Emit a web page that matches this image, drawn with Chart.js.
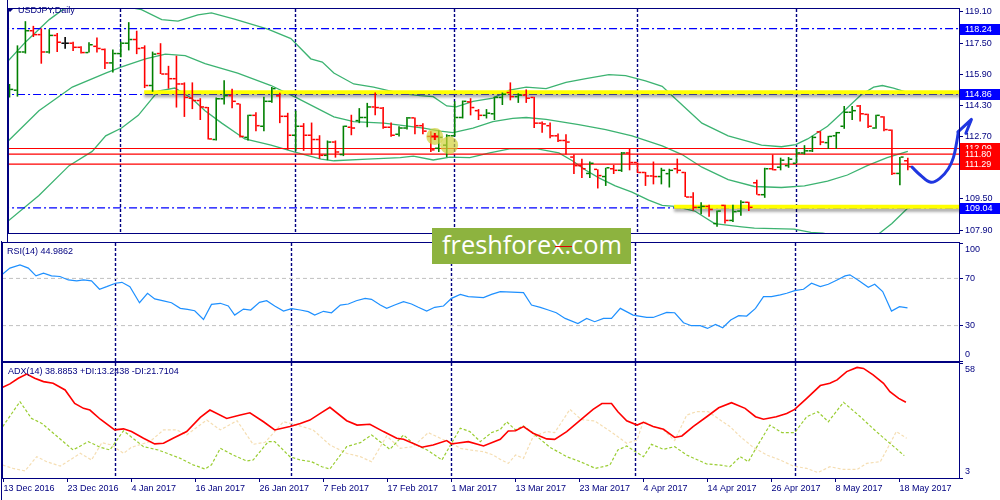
<!DOCTYPE html>
<html>
<head>
<meta charset="utf-8" />
<script src="https://cdn.jsdelivr.net/npm/chart.js@4.4.1/dist/chart.umd.min.js"></script>
<style>
  body { margin:0; background:#fff; overflow:hidden; }
  #wrap { position:relative; width:1000px; height:500px; background:#fff; font-family:"Liberation Sans", Arial, sans-serif; }
  #wrap canvas { position:absolute; left:0; }
  .lbl { position:absolute; font-size:9px; line-height:11px; color:#000080; white-space:nowrap; }
  #tri { position:absolute; left:7px; top:9px; width:0; height:0; border-left:3px solid transparent; border-right:3px solid transparent; border-top:3px solid #000080; }
  #wm { position:absolute; left:432px; top:228px; width:199px; height:36px; background:#8db33f; overflow:hidden; z-index:5; }
  #wmText { position:absolute; left:10px; top:0; line-height:32px; font-family:"Open Sans", sans-serif; font-size:26px; color:#fff; white-space:nowrap; }
  #wmRed { position:absolute; left:123px; top:18px; width:17px; height:1px; background:#e00000; }
</style>
</head>
<body>
<div id="wrap">
  <canvas id="cMain" width="1000" height="242" style="top:0"></canvas>
  <canvas id="cRsi" width="1000" height="121" style="top:241px"></canvas>
  <canvas id="cAdx" width="1000" height="139" style="top:361px"></canvas>
  <div id="tri"></div>
  <div class="lbl" style="left:18px;top:5px">USDJPY,Daily</div>
  <div class="lbl" style="left:7px;top:246px">RSI(14) 44.9862</div>
  <div class="lbl" style="left:8px;top:366px">ADX(14) 38.8853 +DI:13.2438 -DI:21.7104</div>
  <div id="wm"><span id="wmText">freshforex.com</span><div id="wmRed"></div></div>
</div>

<script>
// ---- data (bar index 0 = 13 Dec 2016) ----
const xTickBars = [0, 8, 16, 24, 32, 40, 48, 56, 64, 72, 80, 88, 96, 104, 112];
const xTickLabels = ['13 Dec 2016','23 Dec 2016','4 Jan 2017','16 Jan 2017','26 Jan 2017','7 Feb 2017','17 Feb 2017',
  '1 Mar 2017','13 Mar 2017','23 Mar 2017','4 Apr 2017','14 Apr 2017','26 Apr 2017','8 May 2017','18 May 2017'];
const monthStartBars = [14, 36, 56, 79, 99];

const barOpen = [115.08,115.08,117.04,118.13,117.93,117.04,117.89,117.49,117.49,117.28,
 117.01,117.33,117.17,116.48,116.96,117.49,117.68,117.25,115.32,116.96,
 115.91,115.67,115.40,114.67,114.55,114.19,112.55,114.64,114.80,114.38,
 112.66,113.79,113.23,114.51,114.79,113.74,112.77,113.23,112.77,112.55,
 111.74,112.42,111.78,113.18,113.52,113.68,114.22,114.16,113.18,112.82,
 113.14,113.66,113.26,112.71,112.10,112.26,112.74,113.68,114.48,114.03,
 113.79,113.87,114.71,114.96,114.75,114.83,114.71,113.39,113.26,112.74,
 112.50,111.65,111.21,110.81,111.02,110.65,111.05,110.97,111.86,111.37,
 110.86,110.68,110.65,110.80,111.05,110.86,109.60,109.07,109.12,108.24,
 109.17,108.40,108.88,109.33,110.33,109.72,111.05,111.13,111.21,111.33,
 111.86,111.97,112.94,112.39,112.74,113.23,113.95,114.27,113.84,113.14,
 113.71,113.03,110.81,111.46];
const barHigh = [115.40,117.38,118.62,118.38,118.25,118.21,118.02,117.81,117.57,117.33,
 117.54,117.78,117.22,117.17,117.57,118.57,118.13,117.38,117.06,117.49,
 116.33,116.85,115.48,115.48,114.67,114.22,114.71,115.59,115.16,114.38,
 113.82,113.95,114.75,115.24,114.95,113.92,114.03,113.39,113.42,112.77,
 112.50,112.50,113.26,113.82,114.16,114.43,114.96,114.22,113.42,113.23,
 113.71,113.68,113.39,112.98,113.02,112.82,114.51,114.55,114.67,114.11,
 114.11,114.75,114.96,115.48,114.92,115.12,114.75,113.47,113.42,112.86,
 112.82,111.78,111.57,111.42,111.02,111.10,111.25,111.91,112.10,111.37,
 110.89,111.42,111.10,111.05,111.57,110.89,109.85,109.33,109.20,108.91,
 109.20,109.20,109.44,109.36,110.49,111.10,111.78,111.62,111.65,112.10,
 112.26,112.74,112.98,112.74,112.94,114.27,114.27,114.32,113.87,113.82,
 113.74,113.06,111.65,111.62];
const barLow = [114.71,114.75,116.96,117.81,116.44,116.96,117.04,117.20,117.09,116.96,
 117.01,117.01,116.17,115.99,116.77,117.12,116.93,115.19,115.00,115.91,
 115.16,114.19,113.71,114.11,113.55,112.55,112.50,114.35,114.16,112.66,
 112.50,112.98,112.98,114.43,113.39,112.02,111.97,111.97,111.78,111.57,
 111.49,111.62,111.70,112.77,113.39,113.18,113.79,113.10,112.69,112.71,
 113.06,112.82,112.82,111.91,111.91,111.65,112.71,113.63,113.79,113.55,
 113.63,113.55,114.32,114.56,114.43,114.43,113.14,112.90,112.61,112.42,
 111.78,110.78,110.57,110.57,110.04,110.17,110.78,110.89,110.97,110.83,
 110.17,110.25,110.25,110.09,110.81,109.60,108.91,108.72,108.59,108.07,
 108.24,108.32,108.64,108.88,109.72,109.56,110.97,110.97,111.10,111.33,
 111.78,111.91,112.26,112.07,112.07,113.10,113.55,113.47,113.14,113.10,
 112.98,110.73,110.20,110.97];
const barClose = [115.12,117.04,118.13,117.93,117.04,117.89,117.54,117.49,117.28,117.01,
 117.41,117.22,116.48,116.96,117.49,117.68,117.22,115.32,116.93,115.91,
 115.67,115.40,114.71,114.55,114.22,112.58,114.64,114.80,114.51,112.71,
 113.79,113.26,114.51,115.16,113.74,112.77,113.23,112.77,112.55,111.74,
 112.42,111.91,113.23,113.14,113.68,114.22,114.19,113.18,112.77,113.14,
 113.66,113.26,112.98,112.02,112.66,112.74,113.68,114.51,114.19,113.79,
 113.90,114.71,114.87,114.75,114.83,114.67,113.39,113.35,112.74,112.50,
 112.42,111.21,111.05,111.33,110.70,111.10,110.97,111.86,111.37,110.86,
 110.68,110.65,110.97,110.97,110.97,109.60,109.07,109.12,108.96,108.88,
 108.40,108.85,109.33,109.07,109.72,111.05,111.00,111.49,111.54,111.86,
 111.97,112.66,112.42,112.71,112.90,113.95,114.03,113.87,113.23,113.79,
 113.06,110.81,111.65,111.16];

// Bollinger bands (bar position, price)
const bbUpX = [-0.1,2.06,5.0,7.5,10.0,13.0,16.6,19.15,21.2,23.7,25.4,28.3,32.5,35.4,37.9,39.35,40.8,43.3,45.8,49.15,51.65,53.3,55.0,56.2,58.3,60.8,62.9,65.0,67.5,70.0,72.5,75.4,77.5,80.0,82.1,83.7,85.4,87.1,90.4,94.6,97.1,98.9,100.4,102.9,105.0,107.1,108.7,109.8,111.2,113.0];
const bbUpY = [116.61,117.57,118.70,119.45,119.60,119.50,119.21,118.70,118.62,118.94,119.05,118.73,118.21,117.73,116.69,116.52,115.96,115.40,115.24,114.92,114.80,114.75,114.27,114.22,114.51,114.67,115.08,115.24,115.16,115.48,115.67,115.88,115.83,115.56,115.28,114.67,114.03,113.39,112.74,112.26,112.18,112.29,112.58,113.23,114.03,114.83,115.24,115.32,115.19,114.96];
const bbMidX = [-0.1,3.7,7.9,12.1,14.1,17.1,19.6,22.1,24.6,28.7,32.9,36.2,40.8,43.3,47.1,49.6,52.1,54.2,55.8,58.3,60.8,63.3,65.0,67.5,71.6,75.0,78.3,82.1,84.6,87.1,90.4,93.7,97.1,100.0,102.9,105.4,107.9,110.4,113.0];
const bbMidY = [112.50,114.03,115.24,115.96,116.28,116.69,116.93,116.85,116.44,115.96,115.32,114.67,113.71,113.47,113.39,113.26,113.14,112.98,112.90,113.14,113.47,113.63,113.68,113.58,113.31,113.06,112.74,112.22,111.78,111.13,110.49,110.14,110.09,110.17,110.41,110.73,111.21,111.62,111.94];
const bbLowX = [-0.1,3.7,7.5,10.4,12.1,14.1,16.2,18.7,20.8,22.9,24.6,26.7,29.6,32.9,35.8,39.2,40.8,45.0,49.15,50.8,53.3,55.4,57.9,60.4,62.9,66.4,69.1,70.8,72.5,74.2,76.2,78.3,80.4,82.1,83.7,86.2,88.7,92.1,93.7,98.7,100.8,102.3,104.5,107.0,109.0,109.6,111.0,113.0];
const bbLowY = [108.39,109.68,111.21,111.94,112.74,113.14,113.79,115.03,115.19,114.67,114.03,113.39,112.58,112.26,111.91,111.54,111.46,111.54,111.62,111.70,111.50,111.65,111.62,111.86,112.07,112.07,111.86,111.46,110.97,110.57,110.17,109.85,109.44,109.17,109.12,108.88,108.24,108.07,108.00,107.95,107.79,107.75,107.55,107.50,107.62,107.79,108.24,109.04];

// drawn levels
const blueLevels = [118.24, 114.86, 109.04];
const redLevels = [112.09, 111.80, 111.29];
const yellowLevels = [114.98, 109.10];
const yellowFrom = [16.94, 83.6];
const priceTicks = [119.10, 117.50, 115.90, 114.30, 112.70, 111.10, 109.50, 107.90];
const circleX = [53.5, 55.3];
const circleY = [112.71, 112.26];
const circleR = [8.5, 9];
const crossX = [53.5];
const crossY = [112.71];
const arrowX = [113.53, 114.56, 115.9, 117.06, 118.1, 118.73, 119.15, 119.35];
const arrowY = [111.13, 110.73, 110.36, 110.57, 111.05, 111.62, 112.42, 112.94];
const headX = [119.31, 121.0, 120.3];
const headY = [112.94, 113.58, 112.87];

// RSI(14)
const rsiX = [-0.1,0.8,2.06,3.1,4.06,5.0,6.0,7.06,8.1,9.15,10.0,11.0,12.0,12.9,14.0,14.8,15.8,17.0,18.0,18.9,20.0,21.0,22.1,23.0,23.9,25.0,26.0,27.1,28.1,28.9,30.0,30.9,32.0,32.9,33.9,35.0,36.0,37.1,38.1,38.9,40.0,41.0,42.1,43.1,44.1,45.2,46.0,47.1,47.9,48.9,50.0,51.0,51.85,52.9,53.9,55.0,56.0,57.1,58.1,60.0,61.0,62.1,65.0,66.0,67.1,68.1,69.1,70.2,71.8,72.9,73.9,75.0,76.0,77.1,78.7,80.4,81.2,82.9,83.9,85.0,86.0,87.1,88.0,89.0,89.9,90.9,91.9,92.9,94.0,95.0,96.0,97.1,97.9,98.9,100.0,101.0,102.1,103.1,104.2,105.2,105.8,106.8,108.1,108.9,109.9,111.0,112.0,113.0];
const rsiY = [73.8,78.7,81.5,78.7,72.1,74.4,72.1,71.6,68.7,67.9,68.7,67.9,60.8,63.0,65.9,66.7,63.0,49.4,57.4,52.6,50.9,49.4,44.6,43.8,42.6,35.2,48.0,48.9,46.6,38.9,44.0,43.2,49.7,51.1,46.6,42.3,44.3,43.2,41.8,38.9,42.1,40.9,47.4,48.3,51.1,53.1,52.3,47.4,44.6,47.4,50.3,48.3,45.5,42.3,45.5,46.6,53.1,56.5,54.5,53.7,56.5,58.8,57.9,47.4,45.5,43.2,40.9,36.1,31.8,36.1,33.3,36.1,36.1,44.6,38.9,36.9,36.9,41.2,40.9,32.4,29.9,29.9,27.6,31.0,28.2,34.7,38.4,38.1,44.6,54.5,54.5,56.0,57.4,59.6,60.8,65.9,63.0,65.0,68.7,72.1,73.0,68.7,62.5,65.0,58.8,42.3,46.0,45.0];
const rsiLevels = [70, 30];
const rsiTicks = [100, 70, 30, 0];

// ADX(14), +DI, -DI
const adxX = [-0.1,0.8,1.85,2.9,3.9,5.0,6.2,7.7,8.9,10.0,10.8,12.1,13.9,15.0,16.0,17.5,18.9,20.0,21.2,22.9,24.6,25.8,27.9,29.6,30.8,32.5,33.9,35.8,37.1,38.3,39.6,40.8,42.9,44.2,45.8,47.5,49.15,50.0,52.3,53.7,55.4,56.0,56.6,58.1,60.0,62.1,63.1,64.0,65.0,66.2,67.9,68.9,70.4,72.1,73.7,74.8,76.0,76.8,77.9,79.2,80.0,81.2,82.5,83.9,84.8,86.2,87.9,89.4,91.0,92.7,94.0,95.0,96.6,97.9,98.9,100.4,102.1,103.3,104.2,105.4,106.7,107.5,108.7,110.0,110.8,111.9,112.8];
const adxY = [46.4,48.0,50.7,52.7,50.7,49.1,48.3,45.1,38.7,36.3,35.5,31.1,26.0,26.5,25.2,22.0,19.3,19.6,22.0,25.2,32.0,35.5,31.5,33.1,34.2,29.9,26.0,27.6,29.1,30.7,33.9,36.8,30.4,28.3,28.7,25.2,22.0,21.5,17.7,18.8,20.9,19.3,19.6,20.4,18.3,21.5,25.5,25.6,27.6,24.4,21.7,21.5,25.2,30.7,35.8,38.6,38.6,34.7,30.4,28.3,29.6,27.6,26.3,22.4,23.1,27.6,32.3,36.6,39.0,36.3,32.3,31.1,32.3,33.9,35.8,41.1,47.2,48.3,49.9,53.9,55.9,55.4,52.3,48.3,44.3,41.1,39.2];
const pdiX = [-0.1,2.06,3.5,4.8,8.7,10.6,12.1,13.3,15.0,17.5,19.35,22.1,23.7,25.2,26.0,27.1,28.7,30.4,31.2,33.1,33.9,35.8,37.1,38.5,39.8,40.8,42.9,44.6,46.0,48.3,50.0,51.2,53.1,54.8,56.0,57.1,58.3,59.6,61.0,62.1,62.9,64.0,65.0,66.2,68.3,70.4,72.1,74.0,75.8,76.8,77.9,79.2,80.0,81.0,82.5,83.9,85.4,87.9,89.6,90.8,92.1,93.1,94.3,95.8,97.3,98.9,100.4,101.8,103.1,105.0,107.1,109.1,110.8,112.6];
const pdiY = [27.6,39.5,31.5,29.1,16.4,20.4,17.7,16.4,25.6,18.0,16.4,12.4,9.3,7.3,9.3,17.2,14.0,11.1,11.6,20.4,20.4,13.2,11.6,10.8,8.4,7.3,18.0,19.9,23.6,16.7,23.6,19.6,16.1,11.6,19.6,26.8,25.2,20.4,24.7,26.2,29.9,26.0,27.9,24.4,17.7,13.2,10.8,7.6,9.2,16.4,18.3,15.1,13.2,19.1,16.7,18.0,14.0,9.7,9.2,8.4,13.2,10.8,18.8,28.3,24.7,24.7,32.3,34.7,29.9,39.2,32.3,25.2,19.6,13.7];
const mdiX = [-0.1,1.2,2.7,4.15,5.4,7.1,8.3,9.6,11.0,12.3,13.5,15.0,16.0,18.3,20.0,21.65,22.9,25.4,27.1,29.2,31.2,32.7,35.0,36.7,38.7,40.8,42.9,44.6,46.0,47.9,49.6,51.2,53.1,54.6,56.0,57.1,58.3,60.0,61.2,62.1,63.1,64.0,65.0,66.2,67.9,68.9,70.8,72.2,73.9,76.2,77.9,79.2,80.0,81.2,82.5,83.9,85.4,86.6,88.1,89.6,90.8,92.1,93.7,95.4,97.1,98.7,100.4,101.8,103.3,105.0,106.7,107.9,109.6,110.4,111.6,112.9];
const mdiY = [9.2,7.6,6.4,13.2,10.8,8.7,11.6,14.8,11.6,19.9,18.8,14.8,17.7,20.4,26.0,26.0,23.6,30.7,26.0,30.4,19.1,20.1,29.9,28.3,26.0,18.8,14.8,13.2,10.8,23.1,17.2,18.0,24.7,22.0,19.6,17.2,16.4,15.6,14.0,11.9,10.0,14.0,12.4,22.8,25.2,24.7,35.8,31.0,30.3,24.4,19.6,21.2,30.3,27.6,26.0,20.9,33.1,34.7,34.7,30.7,27.6,22.8,17.7,14.0,11.6,8.7,7.6,5.6,8.4,7.1,7.1,10.0,10.8,16.4,25.2,22.0];
const adxTicks = [58, 3];

// ---- helpers ----
const X_MIN = -0.0625, X_MAX = 119.4375;
const NAVY = '#000080', UP = '#008000', DOWN = '#ff0000', DOJI = '#000000';
const FONT = { family: '"Liberation Sans", Arial, sans-serif', size: 9, lineHeight: 1.4 };
const barColors = barOpen.map((o, i) => barClose[i] > o ? UP : (barClose[i] < o ? DOWN : DOJI));

function pts(xs, ys) { return xs.map((x, i) => ({ x: x, y: ys[i] })); }
function hline(v, from) { return [{ x: from === undefined ? X_MIN - 1 : from, y: v }, { x: X_MAX + 1, y: v }]; }
function lineDs(data, color, extra) {
  return Object.assign({ type: 'line', data: data, borderColor: color, borderWidth: 1, pointRadius: 0, tension: 0, fill: false }, extra || {});
}

function xScale(show) {
  const s = {
    type: 'linear', min: X_MIN, max: X_MAX, offset: false, display: show,
    grid: { offset: false, drawOnChartArea: false, drawTicks: true, tickLength: 4, color: NAVY },
    border: { display: true, color: NAVY },
    ticks: { autoSkip: false, maxRotation: 0, minRotation: 0, align: 'start', padding: 0, color: NAVY, font: FONT,
      callback: (v, idx) => xTickLabels[idx] },
    afterBuildTicks: sc => { sc.ticks = xTickBars.map(v => ({ value: v })); }
  };
  if (show) s.afterFit = sc => { sc.height = 22; sc.paddingLeft = 0; sc.paddingRight = 0; };
  return s;
}
function yScale(min, max, tickVals, fmt) {
  return {
    type: 'linear', position: 'right', min: min, max: max,
    grid: { drawOnChartArea: false, drawTicks: true, tickLength: 4, color: NAVY },
    border: { display: true, color: NAVY },
    ticks: { autoSkip: false, padding: 2, color: NAVY, font: FONT, crossAlign: 'near', callback: fmt },
    afterBuildTicks: sc => { sc.ticks = tickVals.map(v => ({ value: v })); },
    afterFit: sc => { sc.width = 41; sc.paddingTop = 0; sc.paddingBottom = 0; }
  };
}
function options(pad, yS, showX) {
  return {
    responsive: false, animation: false, events: [],
    layout: { padding: pad },
    plugins: { legend: { display: false }, tooltip: { enabled: false }, title: { display: false } },
    scales: { x: xScale(showX), y: yS }
  };
}

// month separators + pane frame
const paneDecor = {
  id: 'paneDecor',
  beforeDatasetsDraw(chart) {
    const { ctx, chartArea: a, scales: { x } } = chart;
    ctx.save();
    ctx.strokeStyle = NAVY; ctx.lineWidth = 1.4; ctx.setLineDash([3, 2]);
    monthStartBars.forEach(b => {
      const px = Math.floor(x.getPixelForValue(b)) + 0.5;
      ctx.beginPath(); ctx.moveTo(px, a.top); ctx.lineTo(px, a.bottom); ctx.stroke();
    });
    ctx.restore();
  },
  afterDraw(chart) {
    const { ctx, chartArea: a } = chart;
    ctx.save();
    ctx.strokeStyle = NAVY; ctx.lineWidth = 1;
    ctx.strokeRect(a.left - 0.5, a.top - 0.5, a.right - a.left + 1, a.bottom - a.top + 1);
    ctx.beginPath(); ctx.moveTo(a.left - 1.5, 0); ctx.lineTo(a.left - 1.5, chart.height); ctx.stroke();
    ctx.restore();
  }
};

// soft shadow under the yellow marker lines
const shadowPlugin = {
  id: 'shadow',
  beforeDatasetDraw(chart, args) {
    if (chart.data.datasets[args.index].shadow) {
      const c = chart.ctx; c.save();
      c.shadowColor = 'rgba(0,0,0,0.35)'; c.shadowBlur = 3; c.shadowOffsetY = 3;
    }
  },
  afterDatasetDraw(chart, args) {
    if (chart.data.datasets[args.index].shadow) chart.ctx.restore();
  }
};

// coloured price boxes on the right axis
const levelBoxes = {
  id: 'levelBoxes',
  afterDraw(chart) {
    const { ctx, scales: { y } } = chart;
    ctx.save();
    ctx.font = '9px "Liberation Sans", Arial, sans-serif';
    ctx.textBaseline = 'middle';
    const box = (v, bg) => {
      const py = Math.round(y.getPixelForValue(v));
      ctx.fillStyle = bg; ctx.fillRect(960, py - 5, 40, 11);
      ctx.fillStyle = '#ffffff'; ctx.fillText(v.toFixed(2), 965, py + 0.5);
    };
    blueLevels.forEach(v => box(v, '#0000ff'));
    redLevels.forEach(v => box(v, '#ff0000'));
    ctx.restore();
  }
};

// ---- main price pane ----
const mainSets = [
  lineDs(pts(bbUpX, bbUpY), '#3cb371', { borderWidth: 1.3, order: 60 }),
  lineDs(pts(bbMidX, bbMidY), '#3cb371', { borderWidth: 1.3, order: 60 }),
  lineDs(pts(bbLowX, bbLowY), '#3cb371', { borderWidth: 1.3, order: 60 })
];
blueLevels.forEach(v => mainSets.push(lineDs(hline(v), '#0000ff', { borderWidth: 1.2, borderDash: [8, 3, 2, 3], order: 50 })));
redLevels.forEach(v => mainSets.push(lineDs(hline(v), '#ff0000', { borderWidth: 1.2, order: 50 })));
yellowLevels.forEach((v, k) => mainSets.push(lineDs(hline(v, yellowFrom[k]), '#ffff00', { borderWidth: 4, order: 45, shadow: true })));
mainSets.push({
  type: 'bar', data: barHigh.map((h, i) => ({ x: i, y: [barLow[i], h] })),
  backgroundColor: barColors, borderWidth: 0, barThickness: 1.6, inflateAmount: 0, order: 30
});
mainSets.push(lineDs(barOpen.map((o, i) => ({ x: i - 0.28, y: o })), UP,
  { showLine: false, pointStyle: 'line', pointRadius: 1.5, pointBorderWidth: 1.5, pointBorderColor: barColors, order: 29 }));
mainSets.push(lineDs(barClose.map((c, i) => ({ x: i + 0.28, y: c })), UP,
  { showLine: false, pointStyle: 'line', pointRadius: 1.5, pointBorderWidth: 1.5, pointBorderColor: barColors, order: 28 }));
mainSets.push(lineDs(pts(circleX, circleY), '#d2d23c',
  { showLine: false, pointRadius: circleR, pointBorderWidth: 0, pointBackgroundColor: 'rgba(208,208,56,0.7)', order: 20 }));
mainSets.push(lineDs(pts(crossX, crossY), '#ff0000',
  { showLine: false, pointStyle: 'cross', pointRadius: 3.5, pointBorderWidth: 2, pointBorderColor: '#ff0000', order: 19 }));
mainSets.push(lineDs(pts(arrowX, arrowY), '#1f36e0',
  { borderWidth: 3, tension: 0.4, clip: false, borderCapStyle: 'round', borderJoinStyle: 'round', order: 2 }));
mainSets.push(lineDs(pts(headX, headY), '#1f36e0',
  { borderWidth: 3, clip: false, borderCapStyle: 'round', borderJoinStyle: 'round', order: 1 }));

new Chart(document.getElementById('cMain'), {
  type: 'line',
  data: { datasets: mainSets },
  options: options({ left: 3, top: 2, right: 0, bottom: 2 },
    yScale(107.755, 119.245, priceTicks, v => Number(v).toFixed(2)), false),
  plugins: [paneDecor, shadowPlugin, levelBoxes]
});

// ---- RSI pane ----
const rsiSets = rsiLevels.map(v => lineDs(hline(v), '#c0c0c0', { borderDash: [4, 3], order: 10 }));
rsiSets.push(lineDs(pts(rsiX, rsiY), '#1e90ff', { borderWidth: 1.2, order: 1 }));
new Chart(document.getElementById('cRsi'), {
  type: 'line',
  data: { datasets: rsiSets },
  options: options({ left: 3, top: 2, right: 0, bottom: 1 },
    yScale(0, 100, rsiTicks, v => v === 100 ? ['', '100'] : (v === 0 ? ['0', ''] : String(v))), false),
  plugins: [paneDecor]
});

// ---- ADX pane ----
new Chart(document.getElementById('cAdx'), {
  type: 'line',
  data: { datasets: [
    lineDs(pts(mdiX, mdiY), '#f5deb3', { borderWidth: 1.2, borderDash: [3, 2], order: 3 }),
    lineDs(pts(pdiX, pdiY), '#9acd32', { borderWidth: 1.2, borderDash: [3, 2], order: 2 }),
    lineDs(pts(adxX, adxY), '#ff0000', { borderWidth: 1.6, order: 1 })
  ] },
  options: options({ left: 3, top: 2, right: 0, bottom: 0 },
    yScale(3, 58, adxTicks, v => v === 58 ? ['', '58'] : ['3', '']), true),
  plugins: [paneDecor]
});

// fit the watermark text to its box
const wt = document.getElementById('wmText');
const ww = wt.getBoundingClientRect().width;
if (ww > 0) wt.style.fontSize = (26 * 180 / ww).toFixed(2) + 'px';
</script>
</body>
</html>
